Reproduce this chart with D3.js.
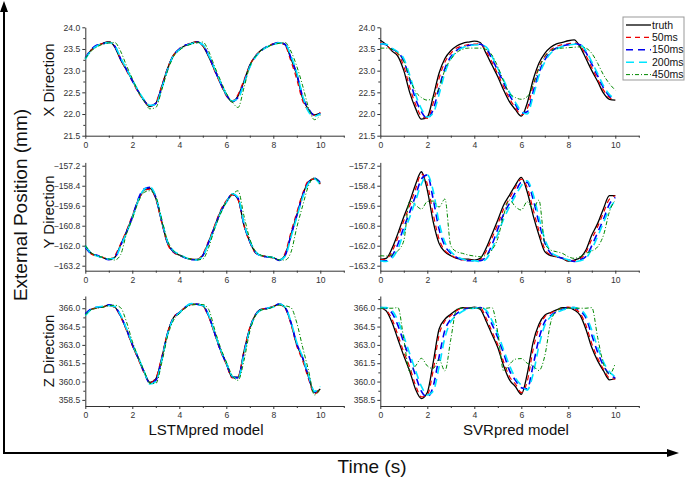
<!DOCTYPE html>
<html><head><meta charset="utf-8">
<script src="https://cdn.jsdelivr.net/npm/d3@7"></script>
<style>
body{margin:0;background:#fff}
svg{display:block}
text{font-family:"Liberation Sans",Arial,sans-serif}
</style>
</head><body>
<svg id="c" width="685" height="478"></svg>
<script>
// ---------------- DATA ----------------
const time = [0,0.25,0.5,0.75,1,1.25,1.5,1.75,2,2.25,2.5,2.75,3,3.25,3.5,3.75,4,4.25,4.5,4.75,5,5.25,5.5,5.75,6,6.25,6.5,6.75,7,7.25,7.5,7.75,8,8.25,8.5,8.75,9,9.25,9.5,9.75,10];
const seriesNames = ["truth","50ms","150ms","200ms","450ms"];
const xTicks = [0,2,4,6,8,10];
const yTicksX = [21.5,22.0,22.5,23.0,23.5,24.0];
const yTicksY = [-163.2,-162.0,-160.8,-159.6,-158.4,-157.2];
const yTicksZ = [358.5,360.0,361.5,363.0,364.5,366.0];
const rowLabels = ["X Direction","Y Direction","Z Direction"];
const modelLabels = ["LSTMpred model","SVRpred model"];

// LSTM – X
const lstmX_truth = [23.28,23.48,23.58,23.63,23.67,23.55,23.25,23.02,22.78,22.52,22.32,22.17,22.25,22.63,23.05,23.36,23.49,23.58,23.63,23.67,23.57,23.32,23.02,22.71,22.44,22.28,22.42,22.75,23.13,23.34,23.48,23.55,23.62,23.64,23.60,23.28,22.90,22.36,22.10,21.98,22.02];
const lstmX_50 = [23.30,23.47,23.57,23.63,23.66,23.56,23.27,23.00,22.76,22.50,22.30,22.18,22.27,22.65,23.06,23.35,23.50,23.58,23.64,23.66,23.58,23.34,23.00,22.70,22.42,22.30,22.45,22.78,23.12,23.35,23.47,23.56,23.62,23.65,23.58,23.22,22.80,22.30,22.08,21.97,22.04];
const lstmX_150 = [23.29,23.49,23.59,23.62,23.65,23.57,23.28,23.03,22.77,22.53,22.31,22.19,22.24,22.60,23.03,23.35,23.50,23.59,23.62,23.66,23.59,23.35,23.03,22.72,22.45,22.29,22.38,22.72,23.10,23.33,23.47,23.56,23.61,23.65,23.61,23.30,22.92,22.40,22.12,21.97,22.01];
const lstmX_200 = [23.27,23.46,23.57,23.62,23.65,23.58,23.30,23.04,22.79,22.54,22.33,22.20,22.22,22.58,23.02,23.34,23.48,23.57,23.62,23.65,23.60,23.36,23.05,22.74,22.46,22.30,22.36,22.70,23.08,23.32,23.46,23.55,23.60,23.64,23.62,23.34,22.95,22.42,22.05,21.95,22.00];
const lstmX_450 = [23.28,23.45,23.55,23.61,23.64,23.65,23.45,23.12,22.82,22.52,22.30,22.12,22.15,22.55,23.00,23.32,23.47,23.56,23.61,23.64,23.66,23.45,23.10,22.78,22.48,22.28,22.15,22.60,23.10,23.33,23.47,23.55,23.60,23.63,23.65,23.45,23.10,22.65,22.15,21.87,21.97];

// LSTM – Y
const lstmY_truth = [-162.00,-162.46,-162.60,-162.72,-162.82,-162.70,-161.96,-161.16,-160.26,-159.26,-158.66,-158.55,-159.16,-160.56,-161.86,-162.36,-162.56,-162.72,-162.82,-162.82,-162.56,-161.76,-160.86,-159.96,-159.36,-158.92,-159.20,-160.76,-161.76,-162.42,-162.60,-162.66,-162.72,-162.86,-162.56,-161.36,-160.16,-158.96,-158.16,-157.98,-158.26];
const lstmY_50 = [-162.05,-162.50,-162.62,-162.70,-162.80,-162.60,-161.90,-161.10,-160.20,-159.30,-158.70,-158.60,-159.20,-160.60,-161.90,-162.40,-162.58,-162.70,-162.80,-162.85,-162.50,-161.70,-160.80,-159.90,-159.30,-158.95,-159.25,-160.80,-161.80,-162.45,-162.60,-162.65,-162.75,-162.85,-162.45,-161.20,-160.00,-158.85,-158.10,-158.00,-158.30];
const lstmY_150 = [-162.10,-162.48,-162.58,-162.74,-162.84,-162.72,-162.00,-161.20,-160.30,-159.20,-158.60,-158.50,-159.10,-160.50,-161.80,-162.35,-162.55,-162.73,-162.84,-162.84,-162.60,-161.80,-160.90,-160.00,-159.40,-158.90,-159.15,-160.70,-161.75,-162.40,-162.62,-162.68,-162.73,-162.88,-162.60,-161.40,-160.20,-159.00,-158.20,-157.95,-158.20];
const lstmY_200 = [-162.00,-162.44,-162.62,-162.70,-162.80,-162.74,-162.05,-161.25,-160.35,-159.30,-158.62,-158.48,-159.05,-160.45,-161.75,-162.30,-162.52,-162.70,-162.82,-162.86,-162.62,-161.85,-160.95,-160.05,-159.40,-158.88,-159.10,-160.65,-161.70,-162.38,-162.60,-162.65,-162.72,-162.86,-162.65,-161.50,-160.30,-159.10,-158.25,-158.00,-158.35];
const lstmY_450 = [-162.00,-162.42,-162.60,-162.70,-162.80,-162.86,-162.55,-161.30,-160.40,-159.40,-158.80,-158.70,-159.05,-160.40,-161.70,-162.30,-162.55,-162.70,-162.80,-162.85,-162.80,-162.10,-161.00,-160.10,-159.40,-158.95,-158.70,-160.20,-161.60,-162.35,-162.58,-162.65,-162.72,-162.85,-162.86,-162.40,-160.90,-159.60,-158.40,-157.92,-158.35];

// LSTM – Z
const lstmZ_truth = [365.50,365.92,366.05,366.10,366.25,366.10,365.36,364.25,363.00,361.90,360.78,359.94,360.22,361.90,363.97,365.22,365.64,366.05,366.33,366.33,366.20,365.36,363.97,362.58,361.47,360.36,360.36,362.44,364.39,365.50,365.92,365.97,366.14,366.33,366.05,364.80,363.00,361.90,360.36,359.10,359.39];
const lstmZ_50 = [365.45,365.90,366.02,366.12,366.22,366.05,365.30,364.20,362.95,361.85,360.70,359.90,360.30,362.00,364.00,365.25,365.65,366.05,366.30,366.35,366.15,365.30,363.90,362.50,361.40,360.30,360.40,362.50,364.40,365.50,365.90,366.00,366.15,366.30,366.00,364.70,362.90,361.70,360.20,359.00,359.35];
const lstmZ_150 = [365.55,365.95,366.08,366.10,366.28,366.12,365.40,364.30,363.05,361.95,360.80,359.85,360.10,361.80,363.90,365.20,365.62,366.08,366.35,366.32,366.22,365.40,364.00,362.60,361.50,360.40,360.30,362.30,364.30,365.48,365.90,366.00,366.12,366.35,366.08,364.85,363.10,361.95,360.40,359.15,359.45];
const lstmZ_200 = [365.40,365.88,366.10,366.15,366.20,366.15,365.45,364.35,363.10,362.00,360.85,359.80,360.00,361.70,363.85,365.15,365.60,366.10,366.38,366.30,366.25,365.45,364.05,362.65,361.55,360.45,360.20,362.20,364.25,365.45,365.88,366.00,366.10,366.35,366.10,364.90,363.20,362.00,360.50,359.20,359.60];
const lstmZ_450 = [365.45,365.85,366.00,366.08,366.20,366.25,366.05,364.90,363.30,362.00,360.90,359.85,359.85,361.50,363.70,365.00,365.55,366.00,366.25,366.30,366.30,365.90,364.30,362.80,361.60,360.50,360.10,361.70,364.10,365.40,365.85,365.95,366.10,366.25,366.20,366.05,364.80,362.80,360.90,358.90,359.40];

// SVR – X
const svrX_truth = [23.70,23.60,23.45,23.33,23.00,22.50,22.13,21.88,21.93,22.40,22.94,23.28,23.46,23.57,23.63,23.66,23.68,23.65,23.40,23.13,22.86,22.55,22.28,22.10,21.95,22.25,22.78,23.17,23.40,23.54,23.62,23.65,23.69,23.71,23.55,23.28,23.00,22.75,22.48,22.34,22.32];
const svrX_50 = [23.65,23.58,23.47,23.38,23.10,22.62,22.22,21.95,21.90,22.25,22.82,23.20,23.40,23.52,23.57,23.60,23.61,23.62,23.45,23.20,22.92,22.63,22.35,22.15,21.98,22.12,22.65,23.08,23.33,23.48,23.56,23.60,23.62,23.64,23.58,23.35,23.07,22.80,22.55,22.38,22.32];
const svrX_150 = [23.62,23.60,23.50,23.42,23.22,22.80,22.35,22.05,21.90,22.10,22.60,23.05,23.32,23.47,23.55,23.58,23.60,23.61,23.52,23.28,23.00,22.72,22.43,22.22,22.02,22.05,22.50,22.95,23.25,23.43,23.52,23.57,23.60,23.62,23.60,23.42,23.15,22.88,22.60,22.42,22.33];
const svrX_200 = [23.62,23.61,23.52,23.43,23.28,22.90,22.45,22.12,21.93,22.02,22.45,22.95,23.27,23.44,23.53,23.57,23.59,23.60,23.55,23.33,23.05,22.78,22.50,22.27,22.06,22.00,22.40,22.88,23.20,23.40,23.50,23.56,23.59,23.61,23.60,23.46,23.20,22.93,22.65,22.45,22.35];
const svrX_450 = [23.52,23.52,23.49,23.40,23.21,22.82,22.52,22.38,22.32,22.38,22.59,23.02,23.26,23.42,23.49,23.52,23.52,23.52,23.49,23.36,23.09,22.75,22.48,22.38,22.34,22.40,22.67,23.05,23.32,23.46,23.51,23.52,23.53,23.54,23.55,23.52,23.40,23.17,22.90,22.70,22.55];

// SVR – Y
const svrY_truth = [-162.82,-162.76,-162.16,-161.26,-160.26,-159.36,-158.32,-157.56,-158.66,-160.56,-161.86,-162.36,-162.60,-162.76,-162.80,-162.80,-162.86,-162.76,-162.16,-161.32,-160.46,-159.56,-158.96,-158.36,-157.90,-158.76,-160.16,-161.36,-162.36,-162.60,-162.66,-162.76,-162.92,-162.86,-162.72,-162.26,-161.36,-160.66,-159.76,-159.00,-159.00];
const svrY_50 = [-162.85,-162.80,-162.35,-161.50,-160.50,-159.60,-158.60,-157.70,-158.30,-160.10,-161.60,-162.30,-162.55,-162.75,-162.85,-162.85,-162.90,-162.85,-162.35,-161.55,-160.70,-159.80,-159.15,-158.50,-158.00,-158.50,-159.80,-161.10,-162.20,-162.55,-162.65,-162.75,-162.90,-162.90,-162.80,-162.40,-161.60,-160.85,-160.00,-159.20,-159.00];
const svrY_150 = [-162.90,-162.90,-162.60,-161.90,-160.90,-160.00,-159.00,-158.00,-157.75,-159.20,-161.00,-162.00,-162.45,-162.70,-162.85,-162.90,-162.90,-162.90,-162.65,-161.95,-161.00,-160.10,-159.45,-158.80,-158.20,-158.20,-159.20,-160.60,-161.80,-162.45,-162.65,-162.75,-162.85,-162.95,-162.85,-162.65,-162.00,-161.20,-160.40,-159.50,-159.10];
const svrY_200 = [-162.90,-162.95,-162.75,-162.20,-161.20,-160.30,-159.30,-158.30,-157.75,-158.70,-160.60,-161.80,-162.35,-162.65,-162.80,-162.90,-162.90,-162.95,-162.80,-162.20,-161.30,-160.40,-159.65,-159.00,-158.40,-158.10,-158.90,-160.30,-161.60,-162.35,-162.60,-162.75,-162.85,-162.95,-162.90,-162.75,-162.20,-161.45,-160.60,-159.80,-159.30];
const svrY_450 = [-162.60,-162.62,-162.55,-162.30,-161.70,-159.30,-159.56,-159.80,-159.35,-159.32,-159.68,-159.20,-162.00,-162.36,-162.46,-162.56,-162.62,-162.66,-162.56,-162.26,-161.56,-160.16,-159.26,-159.66,-159.86,-159.36,-159.76,-159.26,-161.86,-162.26,-162.36,-162.46,-162.66,-162.76,-162.66,-162.46,-162.32,-162.06,-161.36,-159.96,-159.26];

// SVR – Z
const svrZ_truth = [366.05,365.78,364.83,363.46,362.10,360.87,359.37,358.61,359.10,361.55,364.28,365.10,365.51,365.86,366.05,366.00,366.08,365.92,364.96,363.87,362.78,361.28,360.14,359.59,358.96,360.60,363.19,364.69,365.43,365.65,365.86,366.05,366.05,365.86,365.43,364.28,362.78,361.69,360.87,360.14,360.25];
const svrZ_50 = [366.05,365.85,365.10,363.80,362.40,361.20,359.70,358.75,358.90,360.90,363.80,364.95,365.40,365.80,366.00,366.00,366.05,366.05,365.20,364.10,363.00,361.60,360.40,359.80,359.10,360.00,362.60,364.40,365.30,365.60,365.80,366.00,366.10,365.95,365.60,364.60,363.10,361.90,361.00,360.30,360.20];
const svrZ_150 = [366.05,366.00,365.60,364.60,363.20,361.90,360.50,359.20,358.75,359.60,362.00,364.20,365.10,365.55,365.85,366.00,366.00,366.05,365.70,364.70,363.60,362.30,360.90,360.10,359.50,359.40,361.30,363.50,364.90,365.40,365.70,365.90,366.05,366.05,365.80,365.20,363.80,362.40,361.30,360.60,360.30];
const svrZ_200 = [366.05,366.05,365.80,365.00,363.70,362.30,360.90,359.60,358.90,359.20,361.20,363.60,364.90,365.40,365.75,365.95,366.00,366.05,365.85,365.00,363.90,362.60,361.30,360.30,359.70,359.30,360.60,362.90,364.60,365.30,365.65,365.85,366.00,366.05,365.90,365.40,364.20,362.80,361.60,360.80,360.40];
const svrZ_450 = [366.00,366.00,366.00,366.05,363.46,360.82,361.28,361.90,361.28,361.06,361.80,360.87,363.46,365.92,366.00,366.00,366.00,366.00,366.00,366.05,364.00,360.87,361.42,361.83,361.88,361.50,361.28,360.90,362.10,364.83,365.78,366.00,366.00,366.00,366.00,366.00,366.05,363.60,361.42,360.60,361.50];

const panels = [
  [[lstmX_truth,lstmX_50,lstmX_150,lstmX_200,lstmX_450],[svrX_truth,svrX_50,svrX_150,svrX_200,svrX_450]],
  [[lstmY_truth,lstmY_50,lstmY_150,lstmY_200,lstmY_450],[svrY_truth,svrY_50,svrY_150,svrY_200,svrY_450]],
  [[lstmZ_truth,lstmZ_50,lstmZ_150,lstmZ_200,lstmZ_450],[svrZ_truth,svrZ_50,svrZ_150,svrZ_200,svrZ_450]]
];

// ---------------- LAYOUT / STYLE ----------------
const svg = d3.select("#c");
const colX = [[85.3,343.8],[380.3,638.8]];
const rowSpec = [
  {domain:[21.5,24], range:[135.7,27.3], ticks:yTicksX, labY:80},
  {domain:[-163.5,-157.0], range:[270.7,162.4], ticks:yTicksY, labY:212},
  {domain:[358,367], range:[406,296], ticks:yTicksZ, labY:351}
];
const styles = [
  {color:"#000000", width:1.3, dash:null},
  {color:"#ee0000", width:1.2, dash:"5,4"},
  {color:"#0000ee", width:1.6, dash:"7,5"},
  {color:"#00e5ff", width:1.6, dash:"8,5"},
  {color:"#008800", width:1.0, dash:"4,2,1,2"}
];
const axisColor = "#333";

rowSpec.forEach((rs, r) => {
  const y = d3.scaleLinear().domain(rs.domain).range(rs.range);
  const minorY = [];
  for (let i=0;i<rs.ticks.length;i++){
    const step = rs.ticks[1]-rs.ticks[0];
    [rs.ticks[i]-step/2, rs.ticks[i]+step/2].forEach(v=>{
      if (v>=rs.domain[0]-1e-9 && v<=rs.domain[1]+1e-9 && !minorY.some(m=>Math.abs(m-v)<1e-6)) minorY.push(v);
    });
  }
  colX.forEach((cx, c) => {
    const x = d3.scaleLinear().domain([0,11]).range(cx);
    const g = svg.append("g");
    g.append("g").attr("transform",`translate(${cx[0]},0)`)
      .call(d3.axisLeft(y).tickValues(rs.ticks).tickSize(3).tickSizeOuter(0).tickPadding(2).tickFormat(d3.format(".1f")));
    g.append("g").attr("transform",`translate(${cx[0]},0)`)
      .call(d3.axisLeft(y).tickValues(minorY).tickSize(2).tickFormat(""))
      .call(s=>s.select(".domain").remove());
    g.append("g").attr("transform",`translate(0,${rs.range[0]})`)
      .call(d3.axisBottom(x).tickValues(xTicks).tickSize(3).tickSizeOuter(0).tickPadding(3).tickFormat(d3.format("d")));
    g.append("g").attr("transform",`translate(0,${rs.range[0]})`)
      .call(d3.axisBottom(x).tickValues([1,3,5,7,9,11]).tickSize(2).tickFormat(""))
      .call(s=>s.select(".domain").remove());
    g.selectAll(".domain").attr("stroke",axisColor).attr("stroke-width",1);
    g.selectAll(".tick line").attr("stroke",axisColor);
    g.selectAll(".tick text").attr("fill","#333").style("font-size","8.6px").style("font-family",'"Liberation Sans",Arial,sans-serif');

    const line = d3.line().x((d,i)=>x(time[i])).y(d=>y(d)).curve(d3.curveMonotoneX);
    panels[r][c].forEach((vals, s) => {
      const st = styles[s];
      const p = g.append("path").datum(vals).attr("d", line)
        .attr("fill","none").attr("stroke",st.color).attr("stroke-width",st.width)
        .attr("stroke-linejoin","round");
      if (st.dash) p.attr("stroke-dasharray", st.dash);
    });
  });
  svg.append("text").attr("transform",`translate(54,${rs.labY}) rotate(-90)`)
    .attr("text-anchor","middle").style("font-size","15px").attr("fill","#111").text(rowLabels[r]);
});

svg.append("text").attr("x",206).attr("y",435).attr("text-anchor","middle").style("font-size","15px").attr("fill","#111").text(modelLabels[0]);
svg.append("text").attr("x",516).attr("y",435).attr("text-anchor","middle").style("font-size","15px").attr("fill","#111").text(modelLabels[1]);

svg.append("line").attr("x1",4).attr("y1",453).attr("x2",4).attr("y2",10).attr("stroke","#000").attr("stroke-width",2);
svg.append("path").attr("d","M4,1 L0,12 L8,12 Z").attr("fill","#000");
svg.append("line").attr("x1",3).attr("y1",453).attr("x2",668).attr("y2",453).attr("stroke","#000").attr("stroke-width",2);
svg.append("path").attr("d","M679,453 L667,449 L667,457 Z").attr("fill","#000");
svg.append("text").attr("transform","translate(27,205) rotate(-90)").attr("text-anchor","middle")
  .style("font-size","19px").attr("fill","#111").text("External Position (mm)");
svg.append("text").attr("x",372).attr("y",473).attr("text-anchor","middle")
  .style("font-size","19px").attr("fill","#111").text("Time (s)");

const lg = svg.append("g");
lg.append("rect").attr("x",623).attr("y",17).attr("width",61).attr("height",63)
  .attr("fill","#fff").attr("stroke","#999").attr("stroke-width",1);
seriesNames.forEach((nm,i)=>{
  const yy = 25 + i*12.4;
  const st = styles[i];
  const l = lg.append("line").attr("x1",626).attr("x2",651).attr("y1",yy).attr("y2",yy)
    .attr("stroke",st.color).attr("stroke-width",st.width);
  if (st.dash) l.attr("stroke-dasharray",st.dash);
  lg.append("text").attr("x",652).attr("y",yy).attr("dy","0.35em").style("font-size","10.5px").attr("fill","#111").text(nm);
});
</script>
</body></html>
